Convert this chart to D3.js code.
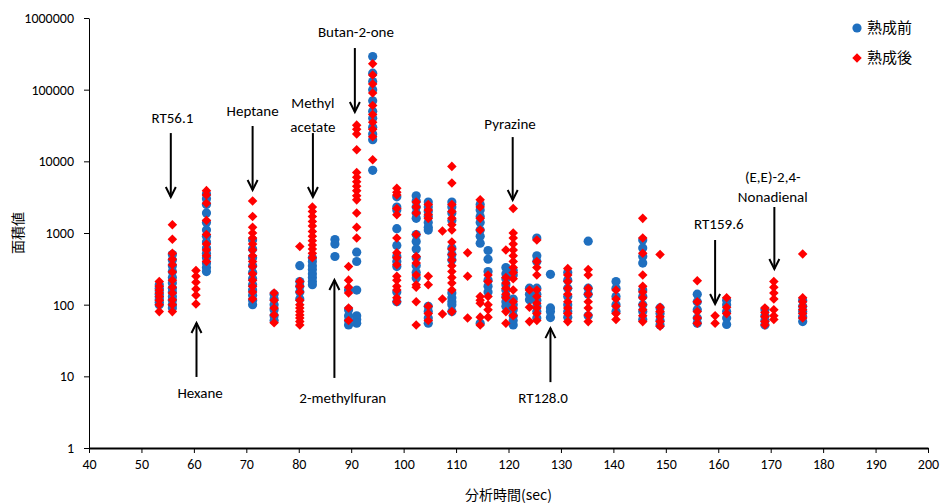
<!DOCTYPE html>
<html>
<head>
<meta charset="utf-8">
<script src="https://cdn.jsdelivr.net/npm/d3@7"></script>
<style>
  body { margin: 0; background: #fff; }
  text { font-family: Carlito, Lato, "Noto Sans", sans-serif; }
  .jp { font-family: "Noto Sans CJK JP", sans-serif; }
</style>
</head>
<body>
<div id="chart"></div>
<script>
// retention time (sec) of each peak column
var rt = [53.4, 55.9, 60.4, 62.4, 71.2, 75.3, 80.2, 82.6, 86.9, 89.5, 91.05, 94.1,
          98.7, 102.4, 104.7, 107.4, 109.2, 112.2, 114.6, 116.1, 119.5, 120.9, 124, 125.4,
          128, 131.3, 135.2, 140.5, 145.6, 148.9, 156, 159.4, 161.6, 168.9, 170.6, 176.1];

// 熟成前 (before ageing) peak areas for each column
var before = [
  [190, 170, 155, 140, 128, 118, 108, 100],
  [500, 420, 350, 290, 240, 200, 170, 150, 130, 115, 100, 90],
  [],
  [3500, 3000, 2500, 1900, 1400, 1100, 900, 750, 620, 520, 450, 380, 330, 290],
  [800, 600, 450, 350, 280, 230, 190, 160, 135, 115, 100],
  [140, 120, 100, 85, 70, 60],
  [350, 210, 180, 150, 120],
  [450, 400, 350, 310, 270, 240, 210, 190],
  [810, 700, 470],
  [160, 85, 70, 60, 52],
  [540, 400, 160, 70, 62, 55],
  [290000, 170000, 130000, 100000, 70000, 50000, 40000, 30000, 24000, 20000, 7500],
  [3200, 2300, 2100, 1150, 670, 470, 400, 340, 150, 110],
  [3300, 2800, 2300, 1900, 1600, 950, 760, 600, 450, 350, 280, 235],
  [2700, 2300, 2000, 1700, 1400, 1200, 1100, 95, 80, 65, 55],
  [],
  [2700, 2300, 1900, 1500, 620, 500, 420, 145, 125, 110, 100, 80],
  [],
  [2500, 2100, 1700, 1400, 1100, 900, 720, 55],
  [570, 430, 290, 220, 180, 150],
  [330, 270, 230, 190, 160, 130, 110, 95],
  [300, 260, 120, 100, 85, 70, 60, 52],
  [170, 140, 117],
  [850, 480, 400, 170, 140, 115, 95, 80, 65],
  [265, 90, 80, 66],
  [280, 220, 170, 130, 100, 80, 67],
  [770, 170, 140, 70],
  [210, 170, 130, 100, 80],
  [800, 620, 470, 380, 160, 130, 100, 80, 62],
  [90, 75, 60, 52],
  [140, 110, 85, 65, 55],
  [],
  [115, 100, 80, 65, 53],
  [85, 70, 60, 52],
  [],
  [115, 95, 80, 68, 58]
];

// 熟成後 (after ageing) peak areas for each column
var after = [
  [210, 180, 160, 145, 130, 115, 100, 80],
  [1300, 820, 520, 430, 360, 285, 220, 175, 145, 117, 100, 80],
  [300, 250, 205, 165, 135, 102],
  [3900, 3400, 2600, 1500, 950, 700, 580, 480, 400],
  [2800, 1700, 1200, 1000, 850, 700, 580, 480, 400, 340, 270, 220, 180, 150, 120],
  [145, 115, 90, 72, 56],
  [650, 210, 180, 150, 115, 100, 90, 80, 72, 65, 58, 52],
  [2300, 2000, 1700, 1450, 1250, 1050, 900, 780, 680, 600, 520, 450],
  [],
  [340, 220, 175, 145, 90, 60],
  [32000, 28000, 24000, 14500, 7000, 6000, 5200, 4500, 3900, 3300, 2900, 1900, 1200, 850],
  [230000, 160000, 120000, 90000, 60000, 45000, 35000, 28000, 22000, 10500],
  [4200, 3700, 3400, 2200, 1800, 850, 530, 450, 360, 250, 220, 180, 160, 125, 110],
  [2700, 2300, 1900, 950, 470, 380, 260, 190, 175, 110, 52],
  [2500, 2100, 1800, 1600, 250, 190, 95, 75, 60],
  [1070, 120, 74],
  [8500, 5000, 2500, 2000, 1600, 1300, 1100, 750, 600, 500, 420, 350, 290, 240, 200, 160, 80],
  [530, 250, 65],
  [2900, 2300, 1600, 1100, 130, 115, 105, 67, 52],
  [260, 210, 130, 100, 85, 67],
  [580, 240, 200, 170, 140, 125, 80, 55],
  [2200, 1000, 850, 700, 580, 480, 400, 330, 280, 230, 160, 110, 90, 70],
  [160, 92, 58],
  [800, 400, 330, 260, 160, 130, 105, 90, 75, 60],
  [],
  [320, 260, 210, 170, 140, 110, 90, 75, 58],
  [310, 260, 170, 140, 110, 90, 72, 58],
  [160, 120, 95, 75, 62],
  [1600, 850, 520, 260, 180, 150, 125, 100, 85, 70, 58],
  [500, 92, 80, 68, 58, 50],
  [215, 110, 80, 65, 55],
  [70, 55],
  [125, 92, 75],
  [90, 78, 68, 58, 52],
  [210, 175, 145, 120, 85, 70, 62],
  [510, 125, 110, 95, 85, 75, 65]
];

var xTicks = d3.range(40, 201, 10);
var yTicks = [1, 10, 100, 1000, 10000, 100000, 1000000];
var seriesNames = ["熟成前", "熟成後"];

// annotations: label lines, label position, arrow tail -> tip (data coordinates)
var notes = [
  {lines: ["RT56.1"], lx: 55.9, ly: [41000], ax: 55.6, from: 24800, to: 3180},
  {lines: ["Heptane"], lx: 71.2, ly: [50400], ax: 71.2, from: 31100, to: 3990},
  {lines: ["Methyl", "acetate"], lx: 82.7, ly: [65100, 30100], ax: 82.7, from: 24800, to: 3180},
  {lines: ["Butan-2-one"], lx: 90.9, ly: [637000], ax: 90.7, from: 381000, to: 48700},
  {lines: ["Hexane"], lx: 61.2, ly: [5.85], ax: 60.5, from: 9.8, to: 55.5},
  {lines: ["2-methylfuran"], lx: 88.4, ly: [5.1], ax: 86.8, from: 9.5, to: 221},
  {lines: ["Pyrazine"], lx: 120.3, ly: [33200], ax: 120.8, from: 21800, to: 2890},
  {lines: ["RT128.0"], lx: 126.6, ly: [5.0], ax: 128.0, from: 8.3, to: 47},
  {lines: ["RT159.6"], lx: 160.1, ly: [1334], ax: 159.4, from: 798, to: 102},
  {lines: ["(E,E)-2,4-", "Nonadienal"], lx: 170.4, ly: [6040, 3180], ax: 170.7, from: 2305, to: 314}
];

var W = 945, H = 504;
var x = d3.scaleLinear().domain([40, 200]).range([89, 928]);
var y = d3.scaleLog().domain([1, 1e6]).range([448, 18]);

var svg = d3.select("#chart").append("svg")
  .attr("width", W).attr("height", H);

// axes
var gx = svg.append("g")
  .attr("transform", "translate(0," + y(1) + ")")
  .call(d3.axisBottom(x).tickValues(xTicks).tickSize(5).tickSizeOuter(0).tickPadding(6));
gx.select(".domain").attr("stroke-width", 2);
gx.selectAll("text").attr("font-size", 14).attr("fill", "#000");

var gy = svg.append("g")
  .attr("transform", "translate(" + x(40) + ",0)")
  .call(d3.axisLeft(y).tickValues(yTicks).tickFormat(d3.format("d")).tickSize(5).tickSizeOuter(0).tickPadding(10));
gy.selectAll("text").attr("font-size", 14).attr("fill", "#000");

svg.append("text").attr("class", "jp")
  .attr("x", (x(40) + x(200)) / 2).attr("y", 500)
  .attr("text-anchor", "middle").attr("font-size", 14)
  .text("分析時間(sec)");

svg.append("text").attr("class", "jp")
  .attr("transform", "translate(23," + y(1000) + ") rotate(-90)")
  .attr("text-anchor", "middle").attr("font-size", 14)
  .text("面積値");

// flatten columns to points
function pts(cols) {
  var out = [];
  cols.forEach(function(vals, i) {
    vals.forEach(function(v) { out.push({t: rt[i], v: v}); });
  });
  return out;
}

var blue = "#1f6fbf", red = "#ff0000";
var diamond = d3.symbol().type(d3.symbolDiamond2).size(58);

svg.append("g").selectAll("circle")
  .data(pts(before)).enter().append("circle")
  .attr("cx", function(d) { return x(d.t); })
  .attr("cy", function(d) { return y(d.v); })
  .attr("r", 4.6)
  .attr("fill", blue);

svg.append("g").selectAll("path")
  .data(pts(after)).enter().append("path")
  .attr("d", diamond)
  .attr("transform", function(d) { return "translate(" + x(d.t) + "," + y(d.v) + ")"; })
  .attr("fill", red);

// annotations
var ann = svg.append("g");
notes.forEach(function(n) {
  n.lines.forEach(function(s, k) {
    ann.append("text")
      .attr("x", x(n.lx)).attr("y", y(n.ly[k]))
      .attr("dy", "0.35em")
      .attr("text-anchor", "middle").attr("font-size", 15)
      .text(s);
  });
  var ax = x(n.ax), y0 = y(n.from), y1 = y(n.to);
  var dir = y1 > y0 ? 1 : -1;
  ann.append("line")
    .attr("x1", ax).attr("x2", ax).attr("y1", y0).attr("y2", y1)
    .attr("stroke", "#000").attr("stroke-width", 2);
  ann.append("path")
    .attr("d", "M" + (ax - 5) + "," + (y1 - dir * 10) + "L" + ax + "," + y1 + "L" + (ax + 5) + "," + (y1 - dir * 10))
    .attr("fill", "none").attr("stroke", "#000").attr("stroke-width", 2);
});

// legend
var lg = svg.append("g").attr("transform", "translate(857,28)");
seriesNames.forEach(function(name, i) {
  var row = lg.append("g").attr("transform", "translate(0," + i * 30 + ")");
  if (i === 0) row.append("circle").attr("r", 4.6).attr("fill", blue);
  else row.append("path").attr("d", diamond).attr("fill", red);
  row.append("text").attr("class", "jp")
    .attr("x", 10).attr("dy", "0.35em").attr("font-size", 15)
    .text(name);
});
</script>
</body>
</html>
